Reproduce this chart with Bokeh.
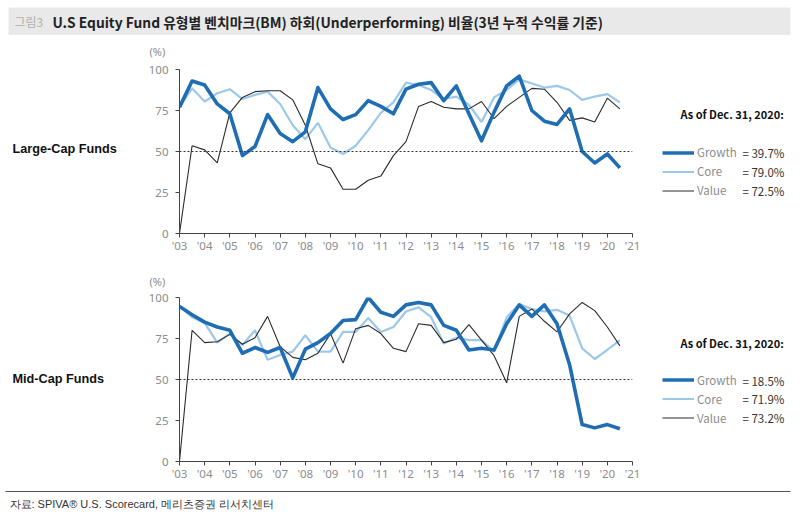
from bokeh.embed import file_html
from bokeh.resources import INLINE
from bokeh.layouts import column, row
from bokeh.models import (ColumnDataSource, Range1d, FixedTicker, Span, Label,
                          Legend, LegendItem, BoxAnnotation)
from bokeh.plotting import figure

#-- semi-annual observation points
periods = [2003.0, 2003.5, 2004.0, 2004.5, 2005.0, 2005.5, 2006.0, 2006.5,
           2007.0, 2007.5, 2008.0, 2008.5, 2009.0, 2009.5, 2010.0, 2010.5,
           2011.0, 2011.5, 2012.0, 2012.5, 2013.0, 2013.5, 2014.0, 2014.5,
           2015.0, 2015.5, 2016.0, 2016.5, 2017.0, 2017.5, 2018.0, 2018.5,
           2019.0, 2019.5, 2020.0, 2020.5]

tick_years = [2003, 2004, 2005, 2006, 2007, 2008, 2009, 2010, 2011, 2012,
              2013, 2014, 2015, 2016, 2017, 2018, 2019, 2020, 2021]
tick_labels = ["'03", "'04", "'05", "'06", "'07", "'08", "'09", "'10", "'11",
               "'12", "'13", "'14", "'15", "'16", "'17", "'18", "'19", "'20",
               "'21"]
y_ticks = [0, 25, 50, 75, 100]

#-- Large-Cap
large_growth = [77, 93, 90.5, 79, 73, 47.5, 53, 72.5, 61, 56, 62, 89, 76, 69.5,
                72.5, 81, 77.5, 73, 88, 91, 92, 81, 90, 73, 56.5, 74, 90, 96,
                75, 68.5, 66.5, 76, 50, 43, 48.5, 40]
large_core = [77, 88.5, 80.5, 85.5, 88, 82, 84.5, 86.5, 79, 66, 57.5, 67.5,
              52.5, 48.5, 53.5, 63, 73.5, 80, 92, 90.5, 87.5, 82, 83.5, 78.5,
              68, 83, 87.5, 94, 91.5, 89, 90, 87.5, 81.5, 83.5, 85, 80]
large_value = [0, 53.5, 51, 43, 73.5, 83, 86.5, 87, 87, 81.5, 66, 42.5, 40, 27,
               27, 32.5, 35, 47.5, 56, 77.5, 80.5, 77, 76, 76, 80.5, 70, 77.5,
               83, 88.5, 88, 80, 69, 70.5, 68, 82.5, 76]
large_latest = ["= 39.7%", "= 79.0%", "= 72.5%"]

#-- Mid-Cap
mid_growth = [94.5, 89.5, 85, 82, 80, 66, 69.5, 66.5, 69.5, 51, 68.5, 72.5, 78,
              86, 86.5, 100, 91, 88.5, 95.5, 97, 95.5, 83, 80, 68, 69, 68, 84,
              95.5, 88.5, 95.5, 84, 59, 22.5, 20.5, 22.5, 20]
mid_core = [95, 88, 84.5, 72.5, 78, 71, 80, 62, 65, 67, 77, 67, 67, 79, 79,
            87.5, 79, 82, 91.5, 94, 88, 72, 75.5, 74, 74, 67, 88, 96, 93, 91.5,
            92.5, 89, 69, 62.5, 68, 74]
mid_value = [0, 80, 72.5, 73, 77.5, 71.5, 75.5, 88.5, 70, 63.5, 62, 66, 78, 60,
             81, 83, 78, 69, 67, 84, 83, 72.5, 74.5, 83.5, 74, 64.5, 48, 88.5,
             93, 85.5, 79, 90, 97, 92, 82, 70.5]
mid_latest = ["= 18.5%", "= 71.9%", "= 73.2%"]

series_names = ["Growth", "Core", "Value"]
as_of_text = "As of Dec. 31, 2020:"

title_tag = "그림3"
title_text = "U.S Equity Fund 유형별 벤치마크(BM) 하회(Underperforming) 비율(3년 누적 수익률 기준)"
source_text = "자료: SPIVA® U.S. Scorecard, 메리츠증권 리서치센터"

GROWTH_C = "#1f6db3"
CORE_C = "#9cc8ea"
VALUE_C = "#2b2b2b"
GRAY_TXT = "#8c8c8c"
KR_FONT = "Noto Sans CJK KR"
STYLES = [dict(line_color=GROWTH_C, line_width=3.6),
          dict(line_color=CORE_C, line_width=2.2),
          dict(line_color=VALUE_C, line_width=1.1)]

LEFT_W, CHART_W, RIGHT_W = 143, 497, 160
NAN = float("nan")


def no_frame(p):
    p.outline_line_color = None
    p.grid.visible = False
    if "frame_align" in p.properties():
        p.frame_align = False
    return p


def text_box(width, height):
    #-- a blank figure used as a canvas for texts, pixel coords from top-left
    p = figure(width=width, height=height, output_backend="svg",
               toolbar_location=None, x_range=Range1d(0, width),
               y_range=Range1d(height, 0), x_axis_location=None,
               y_axis_location=None, min_border=0)
    return no_frame(p)


def add_text(p, x, y, text, size, color="#111111", font=KR_FONT, bold=False):
    p.add_layout(Label(x=x, y=y, text=text, text_font=font,
                       text_font_size=size, text_color=color,
                       text_font_style="bold" if bold else "normal",
                       text_baseline="middle"))


def make_chart(height, top, bottom, growth, core, value):
    p = figure(width=CHART_W, height=height, output_backend="svg",
               toolbar_location=None, x_range=Range1d(2003, 2021),
               y_range=Range1d(0, 100), min_border_left=36,
               min_border_right=8, min_border_top=top,
               min_border_bottom=bottom)
    no_frame(p)

    src = ColumnDataSource(data=dict(x=periods, g=growth, c=core, v=value))
    p.line("x", "c", source=src, **STYLES[1])
    p.line("x", "v", source=src, **STYLES[2])
    p.line("x", "g", source=src, line_join="round", **STYLES[0])

    p.add_layout(Span(location=50, dimension="width", line_color="#333333",
                      line_width=1, line_dash="2 2"))

    p.xaxis.ticker = FixedTicker(ticks=tick_years)
    p.xaxis.major_label_overrides = dict(zip(tick_years, tick_labels))
    p.yaxis.ticker = FixedTicker(ticks=y_ticks)
    for ax in (p.xaxis, p.yaxis):
        ax.axis_line_color = "#444444"
        ax.major_tick_line_color = "#444444"
        ax.major_tick_in = 0
        ax.major_tick_out = 4
        ax.minor_tick_line_color = None
        ax.major_label_text_color = GRAY_TXT
        ax.major_label_text_font = "Noto Sans"
        ax.major_label_text_font_size = "11.5px"
    p.xaxis.major_label_standoff = 0
    p.yaxis.major_label_standoff = 7
    return p


def make_side(height, as_y, rows_y, latest):
    p = text_box(RIGHT_W, height)
    add_text(p, 40, as_y, as_of_text, "11px", bold=True)
    #-- legend keys only (no points of their own)
    keys = [p.line(x=[NAN], y=[NAN], **st) for st in STYLES]
    legend = Legend(items=[LegendItem(label=n, renderers=[r])
                           for n, r in zip(series_names, keys)],
                    location=(22, height - rows_y[2] - 9.5), glyph_width=32,
                    glyph_height=19, label_height=19, spacing=0, padding=0,
                    margin=0, label_standoff=3, border_line_color=None,
                    background_fill_alpha=0, label_text_font=KR_FONT,
                    label_text_font_size="11.5px", label_text_color=GRAY_TXT)
    p.add_layout(legend)
    for yy, txt in zip(rows_y, latest):
        add_text(p, 102, yy, txt, "11.5px", color="#333333")
    return p


def make_block(height, pct_h, chart_top, chart_bottom, pct_y, name, name_y,
               growth, core, value, as_y, rows_y, latest):
    left = text_box(LEFT_W, height)
    add_text(left, 12, name_y, name, "12.7px", font="Liberation Sans",
             bold=True)
    pct = text_box(CHART_W, pct_h)
    add_text(pct, 6, pct_y, "(%)", "11px", color=GRAY_TXT, font="Noto Sans")
    chart = make_chart(height - pct_h, chart_top, chart_bottom,
                       growth, core, value)
    right = make_side(height, as_y, rows_y, latest)
    return row(left, column(pct, chart, spacing=0), right, spacing=0)


#-- title bar
head = text_box(800, 35)
head.add_layout(BoxAnnotation(left=8, right=790, top=7, bottom=35,
                              fill_color="#e9e9e9", fill_alpha=1,
                              line_color=None))
add_text(head, 14, 21, title_tag, "12px", color="#b0b0b0")
add_text(head, 52, 21, title_text, "13.8px", color="#222222", bold=True)

large = make_block(227, 26, 8, 29, 16, "Large-Cap Funds", 113,
                   large_growth, large_core, large_value,
                   78, [117, 136, 155], large_latest)
mid = make_block(224, 27, 8, 25, 19, "Mid-Cap Funds", 116,
                 mid_growth, mid_core, mid_value,
                 80, [118, 136.8, 155.5], mid_latest)

#-- source line
foot = text_box(800, 30)
foot.add_layout(BoxAnnotation(left=5, right=790, top=4.5, bottom=5.5,
                              fill_color="#555555", fill_alpha=1,
                              line_color=None))
add_text(foot, 9, 17, source_text, "11px", color="#333333",
         font="Liberation Sans")

page = column(head, large, mid, foot, spacing=0)
open("out.html", "w").write(file_html(page, INLINE))
